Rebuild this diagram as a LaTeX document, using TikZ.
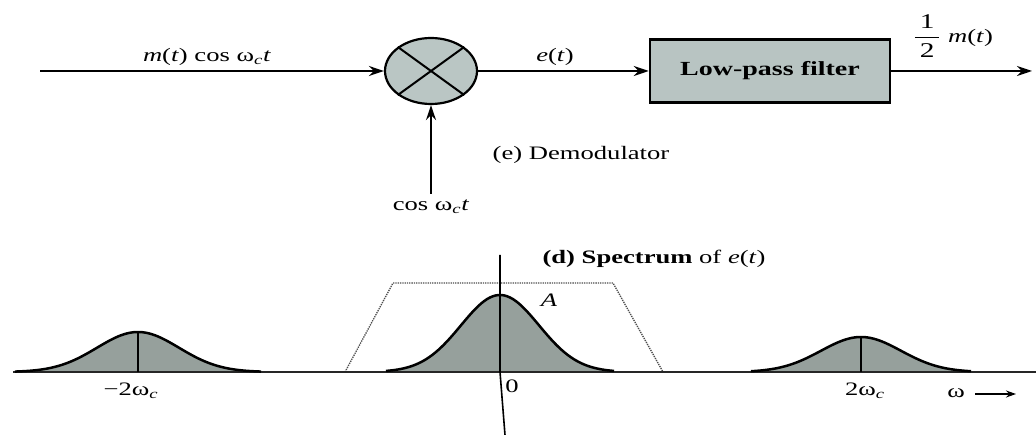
\documentclass[tikz,border=0pt]{standalone}
\usepackage{fontspec}
\setmainfont{Liberation Serif}
\usepackage{graphicx}
\usetikzlibrary{arrows.meta,shapes.geometric}
\definecolor{boxfill}{RGB}{184,196,194}
\definecolor{mulfill}{RGB}{186,198,196}
\definecolor{bellfill}{RGB}{150,160,156}
\newcommand{\stretchtxt}[1]{\scalebox{1.4}[1]{#1}}
\begin{document}
\begin{tikzpicture}[x=1pt,y=-1pt,
  lbl/.style={inner sep=0pt, font=\fontsize{19}{22}\selectfont},
  sig/.style={line width=2pt, -{Stealth[length=15pt,width=10pt]}},
  curve/.style={line width=2.5pt},
  vline/.style={line width=1.6pt},
  lpfband/.style={densely dotted, line width=1.3pt, black!70},
]
\useasboundingbox (0,0) rectangle (1036,435);

% ---------- block diagram ----------
\coordinate (in) at (40,71);
\node[ellipse, draw, line width=2.2pt, fill=mulfill, minimum width=92pt, minimum height=66pt, inner sep=0pt] (mul) at (431,71) {};
\draw[line width=2pt] (mul.north west) -- (mul.south east) (mul.north east) -- (mul.south west);
\node[draw, line width=2.5pt, fill=boxfill, minimum width=240pt, minimum height=63pt,
      font=\bfseries\fontsize{20}{24}\selectfont] (lpf) at (770,71) {\stretchtxt{Low-pass filter}};
\coordinate (out) at (1032,71);
\coordinate (cosin) at (431,194);

\draw[sig] (in) -- (mul);
\draw[sig] (mul) -- (lpf);
\draw[sig] (lpf) -- (out);
\draw[sig] (cosin) -- (mul);

\node[lbl] (l1) at (207,57) {\stretchtxt{\textit{m}(\textit{t}) cos ω\textsubscript{\textit{c}}\textit{t}}};
\node[lbl] (l2) at (555,57) {\stretchtxt{\textit{e}(\textit{t})}};
\node[lbl, anchor=west] (l3) at (913,36) {\stretchtxt{{\fontsize{21}{24}\selectfont$\displaystyle\frac{\mbox{\,1\,}}{\mbox{\,2\,}}$}\hspace{5pt}\textit{m}(\textit{t})}};
\node[lbl] (l4) at (431,207) {\stretchtxt{cos ω\textsubscript{\textit{c}}\textit{t}}};
\node[lbl] (l5) at (581,155) {\stretchtxt{(e) Demodulator}};
\node[lbl] (l6) at (654,259) {\stretchtxt{\textbf{(d) Spectrum} of \textit{e}(\textit{t})}};

% ---------- spectrum ----------
\fill[bellfill] plot[domain=15:261, samples=80] (\x,{372-40*exp(-0.5*((\x-138)/41)*((\x-138)/41))}) -- cycle;
\fill[bellfill] plot[domain=386:614, samples=80] (\x,{372-77*exp(-0.5*((\x-500)/39)*((\x-500)/39))}) -- cycle;
\fill[bellfill] plot[domain=751:971, samples=80] (\x,{372-35*exp(-0.5*((\x-861)/40)*((\x-861)/40))}) -- cycle;

\coordinate (t1) at (345,372);
\coordinate (t2) at (393,283);
\coordinate (t3) at (613,283);
\coordinate (t4) at (663,372);
\draw[lpfband] (t1) -- (t2) -- (t3) -- (t4);

\coordinate (ax1) at (13,372);
\coordinate (ax2) at (1036,372);
\draw[line width=1.8pt, black!85] (ax1) -- (ax2);

\coordinate (v1) at (500,255);
\coordinate (v2) at (500,372);
\coordinate (v3) at (505,435);
\draw[vline] (v1) -- (v2) -- (v3);

\coordinate (lb) at (138,372); \coordinate (lt) at (138,332);
\coordinate (rb) at (861,372); \coordinate (rt) at (861,337);
\draw[vline] (lb) -- (lt);
\draw[vline] (rb) -- (rt);

\draw[curve] plot[domain=15:261, samples=80] (\x,{372-40*exp(-0.5*((\x-138)/41)*((\x-138)/41))});
\draw[curve] plot[domain=386:614, samples=80] (\x,{372-77*exp(-0.5*((\x-500)/39)*((\x-500)/39))});
\draw[curve] plot[domain=751:971, samples=80] (\x,{372-35*exp(-0.5*((\x-861)/40)*((\x-861)/40))});

\node[lbl] (m2) at (131,391) {\stretchtxt{−2ω\textsubscript{\textit{c}}}};
\node[lbl] (p2) at (865,391) {\stretchtxt{2ω\textsubscript{\textit{c}}}};
\node[lbl] (zero) at (512,386) {\stretchtxt{0}};
\node[lbl] (A) at (549,300) {\stretchtxt{\textit{A}}};
\node[lbl] (om) at (956,393) {\stretchtxt{ω}};
\coordinate (oa1) at (975,394);
\coordinate (oa2) at (1016,394);
\draw[line width=2pt, -{Stealth[length=10pt,width=7pt]}] (oa1) -- (oa2);
\end{tikzpicture}
\end{document}
